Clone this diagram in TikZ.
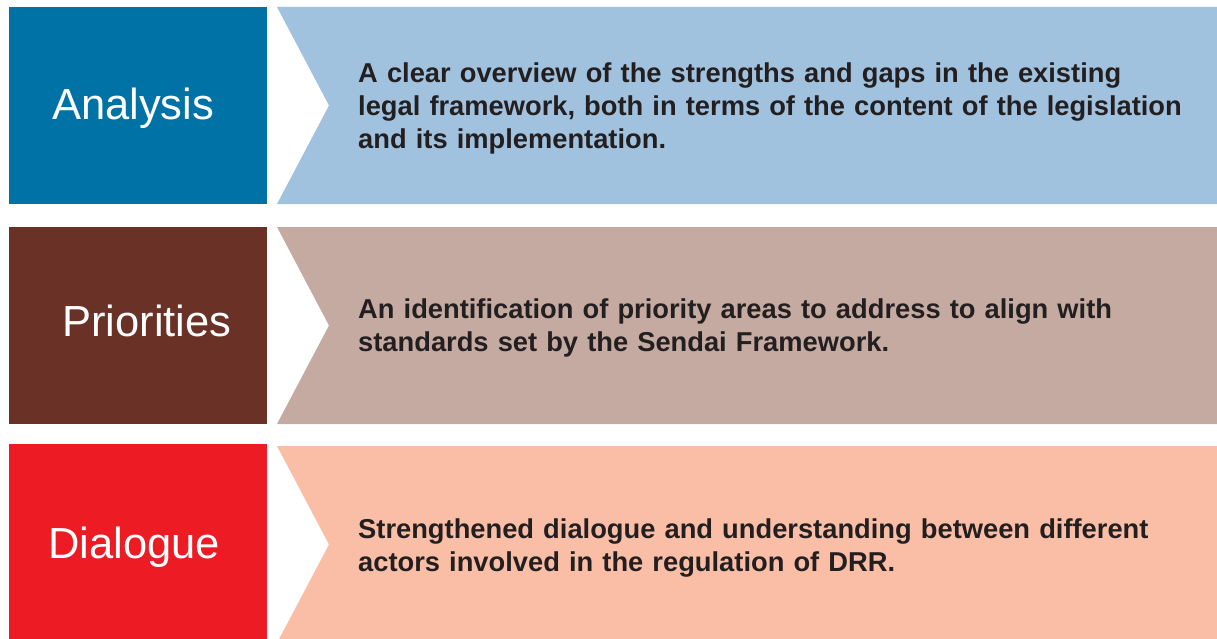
\documentclass[tikz,border=0pt]{standalone}
\usepackage{fontspec}
\setmainfont{Liberation Sans}
\usepackage{tikz}
\usetikzlibrary{positioning}
\definecolor{anablue}{RGB}{0,114,166}
\definecolor{analight}{RGB}{160,194,223}
\definecolor{pribrown}{RGB}{106,49,39}
\definecolor{prilight}{RGB}{197,170,161}
\definecolor{dialred}{RGB}{237,28,36}
\definecolor{diallight}{RGB}{250,190,166}
\definecolor{bodytext}{RGB}{35,31,32}
\tikzstyle{keybox} = [rectangle, 
minimum width=258pt, 
minimum height=197pt, 
inner sep=0pt, 
draw=none]
\tikzstyle{keyword} = [anchor=base west, 
inner sep=0pt, 
text=white, 
font=\fontsize{43.5}{50}\selectfont]
\tikzstyle{outcome} = [anchor=base west, 
inner sep=0pt, 
text width=860pt, 
align=left, 
text=bodytext, 
font=\fontsize{27.3}{33}\selectfont\bfseries]

\begin{document}
\begin{tikzpicture}[x=1pt, y=-1pt]
\useasboundingbox (0,0) rectangle (1217,639);
\fill[white] (0,0) rectangle (1217,639);

% left boxes
\node (analysis) [keybox, fill=anablue] at (138,105.5) {};
\node (priorities) [keybox, fill=pribrown] at (138,325.5) {};
\node (dialogue) [keybox, fill=dialred] at (138,542.5) {};

% chevrons
\fill[analight] (277,7) -- (1217,7) -- (1217,204) -- (277,204) -- (329,105.5) -- cycle;
\fill[prilight] (277,227) -- (1217,227) -- (1217,424) -- (277,424) -- (329,325.5) -- cycle;
\fill[diallight] (277,446) -- (1217,446) -- (1217,643) -- (277,643) -- (329,544.5) -- cycle;

% labels
\node (anatext) [keyword] at (52,120) {Analysis};
\node (pritext) [keyword] at (62,336) {Priorities};
\node (dialtext) [keyword] at (48,558) {Dialogue};

\node (anaout) [outcome] at (358,83) {A clear overview of the strengths and gaps in the existing\\
legal framework, both in terms of the content of the legislation\\
and its implementation.};
\node (priout) [outcome] at (358,318) {An identification of priority areas to address to align with\\
standards set by the Sendai Framework.};
\node (dialout) [outcome] at (358,538) {Strengthened dialogue and understanding between different\\
actors involved in the regulation of DRR.};
\end{tikzpicture}
\end{document}
